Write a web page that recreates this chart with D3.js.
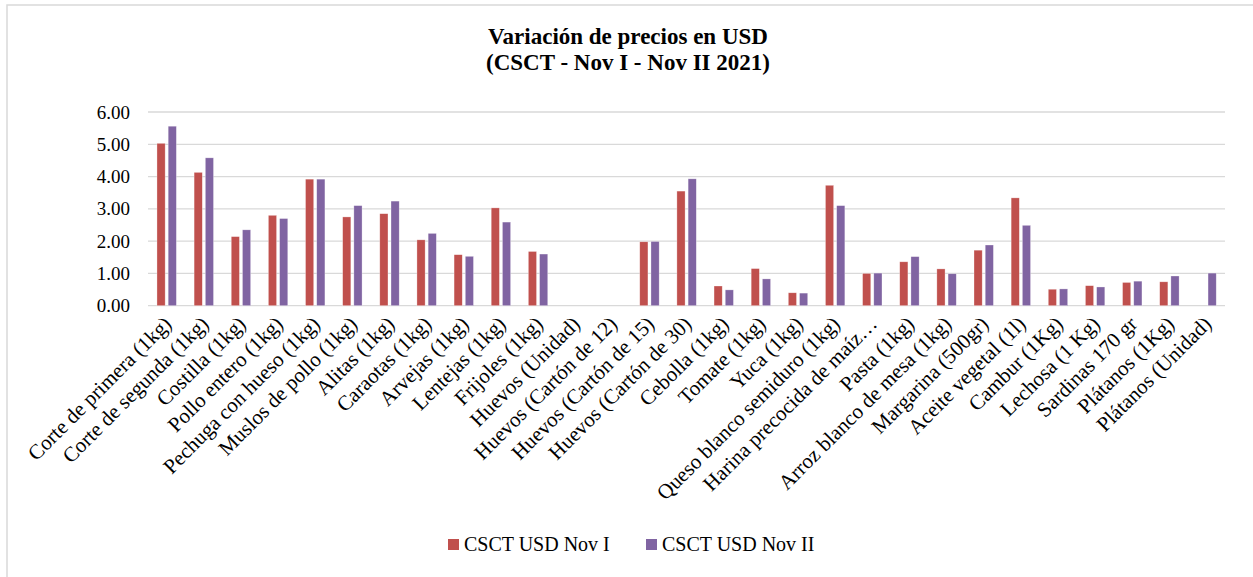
<!DOCTYPE html>
<html><head><meta charset="utf-8">
<script src="https://cdn.jsdelivr.net/npm/d3@7/dist/d3.min.js"></script>
<style>
html,body{margin:0;padding:0;background:#fff;}
</style></head><body>
<svg id="chart" width="1253" height="577"></svg>
<script>
const categories = ["Corte de primera (1kg)","Corte de segunda (1kg)","Costilla (1kg)","Pollo entero (1kg)","Pechuga con hueso (1kg)","Muslos de pollo (1kg)","Alitas (1kg)","Caraotas (1kg)","Arvejas (1kg)","Lentejas (1kg)","Frijoles (1kg)","Huevos (Unidad)","Huevos (Cartón de 12)","Huevos (Cartón de 15)","Huevos (Cartón de 30)","Cebolla (1kg)","Tomate (1kg)","Yuca (1kg)","Queso blanco semiduro (1kg)","Harina precocida de maíz…","Pasta (1kg)","Arroz blanco de mesa (1kg)","Margarina (500gr)","Aceite vegetal (1l)","Cambur (1Kg)","Lechosa (1 Kg)","Sardinas 170 gr","Plátanos (1Kg)","Plátanos (Unidad)"];
const novI  = [5.03,4.13,2.14,2.80,3.92,2.75,2.85,2.04,1.58,3.03,1.68,null,null,1.98,3.55,0.61,1.15,0.40,3.73,1.00,1.36,1.14,1.72,3.34,0.51,0.62,0.72,0.74,null];
const novII = [5.56,4.58,2.35,2.70,3.92,3.10,3.24,2.24,1.53,2.59,1.60,null,null,1.99,3.93,0.49,0.83,0.39,3.10,1.01,1.52,0.99,1.88,2.49,0.52,0.58,0.76,0.92,1.01];
const seriesNames = ["CSCT USD Nov I","CSCT USD Nov II"];
const colors = ["#c0504d","#8064a2"];
const yTicks = [0,1,2,3,4,5,6];
const title1 = "Variación de precios en USD";
const title2 = "(CSCT - Nov I - Nov II 2021)";

(function(){
const FF = "'Liberation Serif', 'DejaVu Serif', serif";
const svg = d3.select("#chart");
svg.append("rect").attr("x",7).attr("y",5).attr("width",1270).attr("height",600)
  .attr("fill","#fff").attr("stroke","#d9d9d9").attr("stroke-width",1.5);

const pL=148, pR=1225, pT=112, pB=305.7;
const x = d3.scaleBand().domain(categories).range([pL,pR]);
const y = d3.scaleLinear().domain([0,6]).range([pB,pT]);
const inner = d3.scaleBand().domain([0,1]).range([-9.6,9.8]).paddingInner(0.27);

svg.append("g").selectAll("line").data(yTicks).join("line")
  .attr("x1",pL).attr("x2",pR).attr("y1",d=>y(d)).attr("y2",d=>y(d))
  .attr("stroke","#d9d9d9").attr("stroke-width",1.3);

const yAxis = svg.append("g").attr("transform",`translate(${pL},0)`)
  .call(d3.axisLeft(y).tickValues(yTicks).tickFormat(d3.format(".2f")).tickSize(0).tickPadding(18));
yAxis.select(".domain").remove();
yAxis.attr("font-family",null).attr("font-size",null);
yAxis.selectAll("text").style("font-family",FF).style("font-size","19px").attr("fill","#000");

const data = [novI, novII];
data.forEach((vals,si)=>{
  svg.append("g").selectAll("rect").data(categories.map((c,i)=>({c,v:vals[i]})).filter(d=>d.v!=null)).join("rect")
    .attr("x",d=>x(d.c)+x.bandwidth()/2+inner(si))
    .attr("width",inner.bandwidth())
    .attr("y",d=>y(d.v)).attr("height",d=>pB-y(d.v))
    .attr("fill",colors[si]).attr("stroke","#fff").attr("stroke-opacity",0.5).attr("stroke-width",0.6);
});

svg.append("g").selectAll("text").data(categories).join("text")
  .attr("transform",d=>`translate(${x(d)+x.bandwidth()/2+1},320) rotate(-45)`)
  .attr("text-anchor","end").attr("dy","0.35em")
  .style("font-family",FF).style("font-size","21px").text(d=>d);

svg.append("text").attr("x",628).attr("y",44).attr("text-anchor","middle")
  .style("font-family",FF).style("font-size","23px").style("font-weight","bold").text(title1);
svg.append("text").attr("x",628).attr("y",70).attr("text-anchor","middle")
  .style("font-family",FF).style("font-size","23px").style("font-weight","bold").text(title2);

const lg = svg.append("g");
const legX = [448,646];
seriesNames.forEach((n,i)=>{
  lg.append("rect").attr("x",legX[i]).attr("y",539).attr("width",11).attr("height",11).attr("fill",colors[i]);
  lg.append("text").attr("x",legX[i]+16).attr("y",551).style("font-family",FF).style("font-size","20px").text(n);
});
})();
</script></body></html>
